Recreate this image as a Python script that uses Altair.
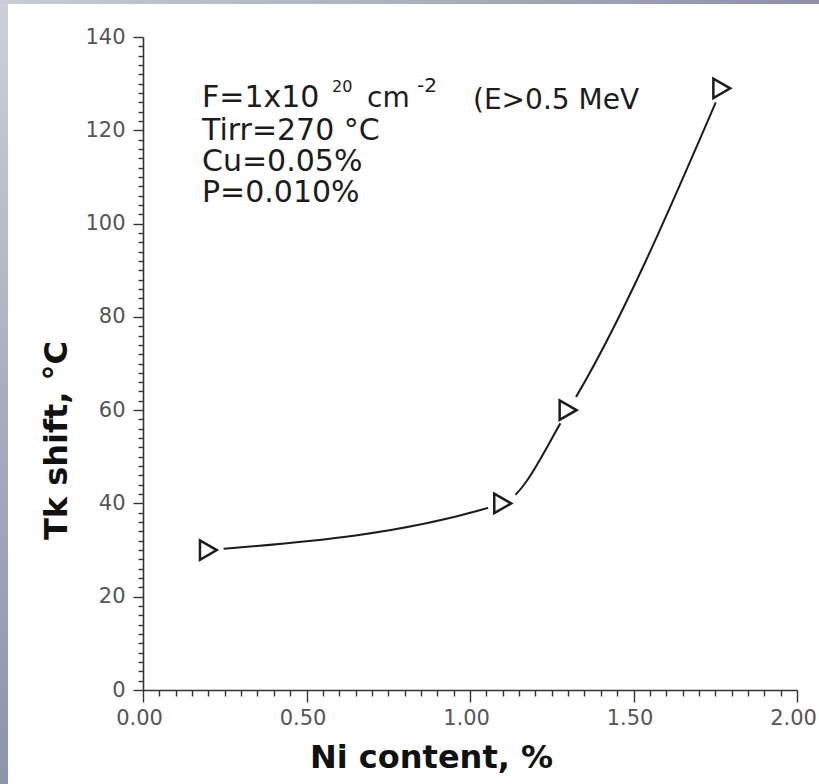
import altair as alt
import pandas as pd

# Measured shift of the ductile-brittle transition temperature vs. nickel content
ni_content = [0.20, 1.10, 1.30, 1.77]
tk_shift = [30, 40, 60, 129]

# Axis tick positions (labels only on the major ones)
x_ticks = [round(0.05 * i, 2) for i in range(41)]
y_ticks = list(range(0, 141, 2))

# Irradiation conditions printed in the upper-left corner
note_fluence = "F=1x10"
note_fluence_exp = "20"
note_unit = "cm"
note_unit_exp = "-2"
note_energy = "(E>0.5 MeV"
note_lines = ["Tirr=270 °C", "Cu=0.05%", "P=0.010%"]

W, H = 654, 653
LEFT, TOP, RIGHT, BOTTOM = 143, 37, 22, 94
FONT = "DejaVu Sans"
INK = "#1c1c1c"

df = pd.DataFrame({"ni": ni_content, "tk": tk_shift})

x_major = "abs(datum.value * 2 - round(datum.value * 2)) < 0.000001"
y_major = "datum.value % 20 == 0"

x_enc = alt.X(
    "ni:Q",
    scale=alt.Scale(domain=[0, 2], nice=False, zero=False),
    axis=alt.Axis(
        values=x_ticks,
        labelExpr=f"{x_major} ? format(datum.value, '.2f') : ''",
        labelOverlap=False,
        labelFlush=False,
        labelFont=FONT,
        labelFontSize=21,
        labelColor="#555555",
        labelPadding=5,
        labelOffset=-4,
        tickSize=12,
        tickWidth=1.4,
        tickColor="#333333",
        tickDash={"condition": {"test": x_major, "value": []}, "value": [6, 40]},
        domainColor="#333333",
        domainWidth=1.6,
        grid=False,
        title="Ni content, %",
        titleFont=FONT,
        titleFontSize=32,
        titleFontWeight="bold",
        titleColor="#111111",
        titleX=288,
        titleY=77,
        titleAlign="center",
        titleBaseline="alphabetic",
    ),
)

y_enc = alt.Y(
    "tk:Q",
    scale=alt.Scale(domain=[0, 140], nice=False),
    axis=alt.Axis(
        values=y_ticks,
        labelExpr=f"{y_major} ? datum.label : ''",
        labelOverlap=False,
        labelFlush=False,
        labelFont=FONT,
        labelFontSize=21,
        labelColor="#555555",
        labelPadding=8,
        tickSize=10,
        tickWidth=1.4,
        tickColor="#333333",
        tickDash={"condition": {"test": y_major, "value": []}, "value": [5, 40]},
        domainColor="#333333",
        domainWidth=1.6,
        grid=False,
        title="Tk shift, °C",
        titleFont=FONT,
        titleFontSize=32,
        titleFontWeight="bold",
        titleColor="#111111",
        titleAngle=270,
        titleX=-77,
        titleY=403,
        titleAlign="center",
        titleBaseline="alphabetic",
    ),
)

one_row = pd.DataFrame({"k": [0]})

# Grey bevel along the left and top edges of the page
left_band = alt.Chart(one_row).mark_rect(
    color=alt.LinearGradient(
        gradient="linear",
        stops=[
            alt.GradientStop(color="#cdd0d9", offset=0),
            alt.GradientStop(color="#a9aebf", offset=0.5),
            alt.GradientStop(color="#8e94a9", offset=1),
        ],
        x1=0, x2=0, y1=0, y2=1,
    )
).encode(
    x=alt.value(-LEFT), x2=alt.value(-LEFT + 8),
    y=alt.value(-TOP), y2=alt.value(H + BOTTOM),
)

top_band = alt.Chart(one_row).mark_rect(
    color=alt.LinearGradient(
        gradient="linear",
        stops=[
            alt.GradientStop(color="#c9ccd6", offset=0),
            alt.GradientStop(color="#8c91a6", offset=1),
        ],
        x1=0, x2=1, y1=0, y2=0,
    )
).encode(
    x=alt.value(-LEFT), x2=alt.value(W + RIGHT),
    y=alt.value(-TOP), y2=alt.value(-TOP + 4),
)

base = alt.Chart(df)

curve = base.mark_line(interpolate="monotone", color=INK, strokeWidth=2).encode(
    x=x_enc, y=y_enc
)

# White halo so the curve stops short of each marker
halo = base.mark_point(
    shape="circle", filled=True, fill="white", stroke="white", opacity=1, size=820
).encode(x=x_enc, y=y_enc)

markers = base.mark_point(
    shape="triangle-right", filled=True, fill="white", stroke=INK,
    strokeWidth=2.5, opacity=1, size=380,
).encode(x=x_enc, y=y_enc)


def note(text, px, py, size):
    return alt.Chart(pd.DataFrame({"t": [text]})).mark_text(
        align="left", baseline="alphabetic", font=FONT, fontSize=size, color=INK
    ).encode(x=alt.value(px - LEFT), y=alt.value(py - TOP), text="t:N")


notes = [
    note(note_fluence, 202, 107, 30),
    note(note_fluence_exp, 332, 92, 16),
    note(note_unit, 367, 107, 28),
    note(note_unit_exp, 417, 92, 20),
    note(note_energy, 473, 109, 28),
]
for i, line in enumerate(note_lines):
    notes.append(note(line, 202, 140 + 31 * i, 30))

chart = alt.layer(
    left_band, top_band, curve, halo, markers, *notes
).properties(
    width=W,
    height=H,
    autosize=alt.AutoSizeParams(type="none"),
    padding={"left": LEFT, "top": TOP, "right": RIGHT, "bottom": BOTTOM},
    background="white",
).configure_view(stroke=None)

chart.save("out.html", embed_options={"renderer": "svg", "actions": False})
